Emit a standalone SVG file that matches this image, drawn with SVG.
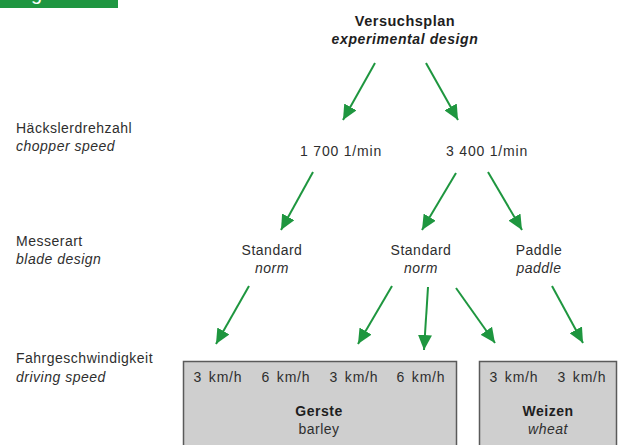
<svg xmlns="http://www.w3.org/2000/svg" width="635" height="445" viewBox="0 0 635 445">
<style>
text{font-family:"Liberation Sans",Arial,sans-serif;fill:#2e2e2e;font-size:14px;letter-spacing:0.5px}
.it{font-style:italic}
.b{font-weight:bold;fill:#1e1e1e}
.c{text-anchor:middle}
.sp{word-spacing:2px;letter-spacing:0.8px}
.rpm{letter-spacing:0.8px}
.arr{stroke:#1e963f;stroke-width:2;fill:none;marker-end:url(#ah)}
.box{fill:#cfcfcf;stroke:#5a5a5a;stroke-width:1.5}
</style>
<defs>
<marker id="ah" markerUnits="userSpaceOnUse" markerWidth="16" markerHeight="14" refX="15" refY="7" orient="auto">
<path d="M0,0 L15,7 L0,14 Z" fill="#1e963f"/>
</marker>
</defs>
<rect width="635" height="445" fill="#ffffff"/>
<g id="header">
<rect x="0" y="0" width="118" height="8" fill="#1f9641"/>
<text x="31" y="0" style="font-size:20px;fill:#ffffff;letter-spacing:0">g</text>
</g>
<g id="title">
<text class="b c" x="405" y="26" style="font-size:14.5px">Versuchsplan</text>
<text class="b it c" x="405" y="44" style="font-size:14px;letter-spacing:0.6px">experimental design</text>
</g>
<g id="label-chopper">
<text x="16" y="133">Häckslerdrehzahl</text>
<text class="it" x="16" y="151">chopper speed</text>
</g>
<g id="label-blade">
<text x="16" y="246">Messerart</text>
<text class="it" x="16" y="264">blade design</text>
</g>
<g id="label-speed">
<text x="16" y="363">Fahrgeschwindigkeit</text>
<text class="it" x="16" y="382">driving speed</text>
</g>
<g id="n1700"><text class="c rpm" x="341" y="156">1 700 1/min</text></g>
<g id="n3400"><text class="c rpm" x="487" y="156">3 400 1/min</text></g>
<g id="std1">
<text class="c" x="272" y="255">Standard</text>
<text class="c it" x="272" y="273">norm</text>
</g>
<g id="std2">
<text class="c" x="421" y="255">Standard</text>
<text class="c it" x="421" y="273">norm</text>
</g>
<g id="paddle">
<text class="c" x="539" y="255">Paddle</text>
<text class="c it" x="539" y="273">paddle</text>
</g>
<g id="gerste">
<rect class="box" x="183.5" y="361.5" width="273" height="95"/>
<text class="c sp" x="218" y="382">3 km/h</text>
<text class="c sp" x="286" y="382">6 km/h</text>
<text class="c sp" x="354" y="382">3 km/h</text>
<text class="c sp" x="421" y="382">6 km/h</text>
<text class="c b" x="319" y="416">Gerste</text>
<text class="c" x="319" y="434">barley</text>
</g>
<g id="weizen">
<rect class="box" x="479.5" y="361.5" width="137" height="95"/>
<text class="c sp" x="514" y="382">3 km/h</text>
<text class="c sp" x="582" y="382">3 km/h</text>
<text class="c b" x="548" y="416">Weizen</text>
<text class="c it" x="548" y="434">wheat</text>
</g>
<g id="connectors">
<line class="arr" x1="375" y1="63" x2="343" y2="120"/>
<line class="arr" x1="426" y1="63" x2="458" y2="120"/>
<line class="arr" x1="313" y1="172" x2="281" y2="230"/>
<line class="arr" x1="456" y1="173" x2="422" y2="230"/>
<line class="arr" x1="488" y1="172" x2="522" y2="230"/>
<line class="arr" x1="249" y1="286" x2="216" y2="344"/>
<line class="arr" x1="392" y1="286" x2="358" y2="344"/>
<line class="arr" x1="428" y1="287" x2="424" y2="350"/>
<line class="arr" x1="456" y1="288" x2="495" y2="343"/>
<line class="arr" x1="552" y1="286" x2="583" y2="343"/>
</g>
</svg>
